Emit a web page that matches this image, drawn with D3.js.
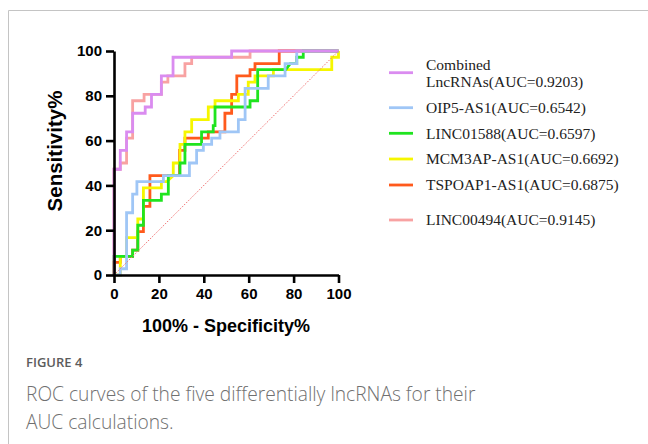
<!DOCTYPE html>
<html>
<head>
<meta charset="utf-8">
<script src="https://cdn.jsdelivr.net/npm/d3@7/dist/d3.min.js"></script>
<style>
  body { margin: 0; background: #fff; }
  svg { display: block; }
</style>
</head>
<body>
<script>
// ticks
const xTicks = [0, 20, 40, 60, 80, 100];
const yTicks = [0, 20, 40, 60, 80, 100];

// series (legend order)
const seriesNames = ["Combined LncRNAs", "OIP5-AS1", "LINC01588", "MCM3AP-AS1", "TSPOAP1-AS1", "LINC00494"];
const aucValues = ["0.9203", "0.6542", "0.6597", "0.6692", "0.6875", "0.9145"];

// ROC corner points: [100% - specificity, sensitivity]
const combinedPts = [[0,0],[0,47.2],[2.8,47.2],[2.8,55.6],[5.6,55.6],[5.6,63.9],[8.3,63.9],[8.3,72.2],[13.9,72.2],[13.9,75],[16.7,75],[16.7,80.6],[21.1,80.6],[21.1,88.9],[26.3,88.9],[26.3,97.2],[52.4,97.2],[52.4,100],[100,100]];
const oip5Pts = [[0,0],[2.8,0],[2.8,2.8],[5.6,2.8],[5.6,27.8],[8.3,27.8],[8.3,36.1],[10.2,36.1],[10.2,41.7],[22,41.7],[22,44.4],[33.6,44.4],[33.6,50],[36.8,50],[36.8,55.6],[39.8,55.6],[39.8,58.3],[43.5,58.3],[43.5,61.1],[47.2,61.1],[47.2,63.9],[55.4,63.9],[55.4,69.4],[58.4,69.4],[58.4,83.3],[68.7,83.3],[68.7,88.9],[76.2,88.9],[76.2,94.4],[81.4,94.4],[81.4,100],[100,100]];
const linc01588Pts = [[0,0],[0,8.3],[8.3,8.3],[8.3,11.1],[10.6,11.1],[10.6,22.2],[13.1,22.2],[13.1,33.3],[21.1,33.3],[21.1,36.1],[24.2,36.1],[24.2,44.4],[29.4,44.4],[29.4,50],[31.6,50],[31.6,58.3],[39,58.3],[39,63.9],[44.2,63.9],[44.2,66.7],[45,66.7],[45,75],[60.6,75],[60.6,77.8],[64,77.8],[64,91.7],[76.5,91.7],[78.5,94.4],[81.4,94.4],[81.4,97.2],[84.3,97.2],[84.3,100],[100,100]];
const mcm3apPts = [[0,0],[2.8,0],[2.8,8.3],[5.6,8.3],[5.6,16.7],[10.6,16.7],[10.6,25],[13.1,25],[13.1,38.9],[21.1,38.9],[21.1,41.7],[23.5,41.7],[26.4,44.4],[26.4,50],[29.4,50],[29.4,58.3],[31.6,58.3],[31.6,63.9],[34.6,63.9],[34.6,69.4],[42,69.4],[42,75],[45,75],[45,77.8],[55.4,77.8],[55.4,80.6],[59.8,80.6],[59.8,86.1],[62.8,86.1],[62.8,88.9],[71,88.9],[71,91.7],[97,91.7],[97,97.2],[100,97.2],[100,100]];
const tspoap1Pts = [[0,0],[0,5.6],[2.8,5.6],[2.8,8.3],[8.3,8.3],[8.3,11.1],[10.6,11.1],[10.6,19.4],[13.1,19.4],[13.1,30.6],[16,30.6],[16,44.4],[29.2,44.4],[29.2,55.6],[31.6,55.6],[31.6,61.1],[42,61.1],[42,63.9],[49.4,63.9],[49.4,72.2],[52.4,72.2],[52.4,80.6],[54.7,80.6],[54.7,88.9],[60.6,88.9],[60.6,91.7],[62.8,91.7],[62.8,94.4],[73.6,94.4],[73.6,100],[100,100]];
const linc00494Pts = [[0,0],[0,47.2],[2.8,47.2],[2.8,50],[5.6,50],[5.6,61.1],[8.3,61.1],[8.3,77.8],[13.4,77.8],[13.4,80.6],[21.1,80.6],[21.1,86.1],[24,86.1],[24,88.9],[31.6,88.9],[31.6,94.4],[34.6,94.4],[34.6,97.2],[60.6,97.2],[60.6,100],[100,100]];

const seriesPts = [combinedPts, oip5Pts, linc01588Pts, mcm3apPts, tspoap1Pts, linc00494Pts];
const colors = ["#da8cf0", "#9fc6f6", "#1fe41f", "#f6f600", "#ff5a1c", "#f8a2a2"];

const W = 648, H = 444;
const svg = d3.select("body").append("svg")
  .attr("width", W).attr("height", H)
  .attr("xmlns", "http://www.w3.org/2000/svg");

// page frame
svg.append("path")
  .attr("d", `M8.5,${H} L8.5,10.5 L${W},10.5`)
  .attr("fill", "none").attr("stroke", "#c4c4c4").attr("stroke-width", 1);

const x = d3.scaleLinear().domain([0, 100]).range([114, 338.5]);
const y = d3.scaleLinear().domain([0, 100]).range([275, 51]);

const line = d3.line()
  .x((d) => x(d[0]))
  .y((d) => y(d[1]));

// curves, last legend entry drawn first so the combined curve sits on top
const order = [5, 4, 3, 2, 1, 0];
svg.append("g").selectAll("path")
  .data(order)
  .enter()
  .append("path")
  .attr("d", (i) => line(seriesPts[i]))
  .attr("fill", "none")
  .attr("stroke", (i) => colors[i])
  .attr("stroke-width", 2.8);

// reference diagonal
svg.append("path")
  .attr("d", line([[0, 0], [100, 100]]))
  .attr("fill", "none")
  .attr("stroke", "#f07272")
  .attr("stroke-width", 1)
  .attr("stroke-dasharray", "1.5,1.5");

// axes
const axisFont = "'Liberation Sans', Arial, sans-serif";
const gx = svg.append("g")
  .attr("transform", `translate(0,${y(0)})`)
  .call(d3.axisBottom(x).tickValues(xTicks).tickSize(8).tickSizeOuter(0).tickPadding(5));
const gy = svg.append("g")
  .attr("transform", `translate(${x(0)},0)`)
  .call(d3.axisLeft(y).tickValues(yTicks).tickSize(8).tickSizeOuter(0).tickPadding(4));

[gx, gy].forEach((g) => {
  g.select(".domain").attr("stroke", "#000").attr("stroke-width", 2.6);
  g.selectAll(".tick line").attr("stroke", "#000").attr("stroke-width", 2.6);
  g.selectAll(".tick text")
    .attr("fill", "#000")
    .attr("font-family", axisFont)
    .attr("font-weight", "bold")
    .attr("font-size", "15px");
});

svg.append("text")
  .attr("x", 226).attr("y", 331.5)
  .attr("text-anchor", "middle")
  .attr("font-family", axisFont).attr("font-weight", "bold").attr("font-size", "18px")
  .text("100% - Specificity%");

svg.append("text")
  .attr("transform", "translate(62,151) rotate(-90)")
  .attr("text-anchor", "middle")
  .attr("font-family", axisFont).attr("font-weight", "bold").attr("font-size", "20.5px")
  .text("Sensitivity%");

// legend
const legendY = [72.7, 107.7, 133.3, 159, 185, 220];
const legend = svg.append("g");
legend.selectAll("line")
  .data(seriesNames)
  .enter()
  .append("line")
  .attr("x1", 389).attr("x2", 413)
  .attr("y1", (d, i) => legendY[i]).attr("y2", (d, i) => legendY[i])
  .attr("stroke", (d, i) => colors[i])
  .attr("stroke-width", 2.8);

const legendText = legend.selectAll("text")
  .data(seriesNames)
  .enter()
  .append("text")
  .attr("x", 426)
  .attr("font-family", "'Liberation Serif', 'Times New Roman', serif")
  .attr("font-size", "15.5px")
  .attr("fill", "#222");

legendText.each(function (d, i) {
  const t = d3.select(this);
  const label = `${d}(AUC=${aucValues[i]})`;
  if (i === 0) {
    const parts = d.split(" ");
    t.append("tspan").attr("x", 426).attr("y", 69.5).text(parts[0]);
    t.append("tspan").attr("x", 426).attr("y", 87).text(`${parts[1]}(AUC=${aucValues[i]})`);
  } else {
    t.attr("y", legendY[i] + 5.2).text(label);
  }
});

// caption
svg.append("text")
  .attr("x", 26).attr("y", 367)
  .attr("font-family", "'Open Sans', sans-serif").attr("font-weight", 600)
  .attr("font-size", "13px").attr("fill", "#5c5c5c")
  .text("FIGURE 4");
svg.append("text")
  .attr("x", 26).attr("y", 401)
  .attr("font-family", "'Open Sans', sans-serif").attr("font-weight", 300)
  .attr("font-size", "19.2px").attr("fill", "#707070")
  .text("ROC curves of the five differentially lncRNAs for their");
svg.append("text")
  .attr("x", 26).attr("y", 429)
  .attr("font-family", "'Open Sans', sans-serif").attr("font-weight", 300)
  .attr("font-size", "19.2px").attr("fill", "#707070")
  .text("AUC calculations.");
</script>
</body>
</html>
